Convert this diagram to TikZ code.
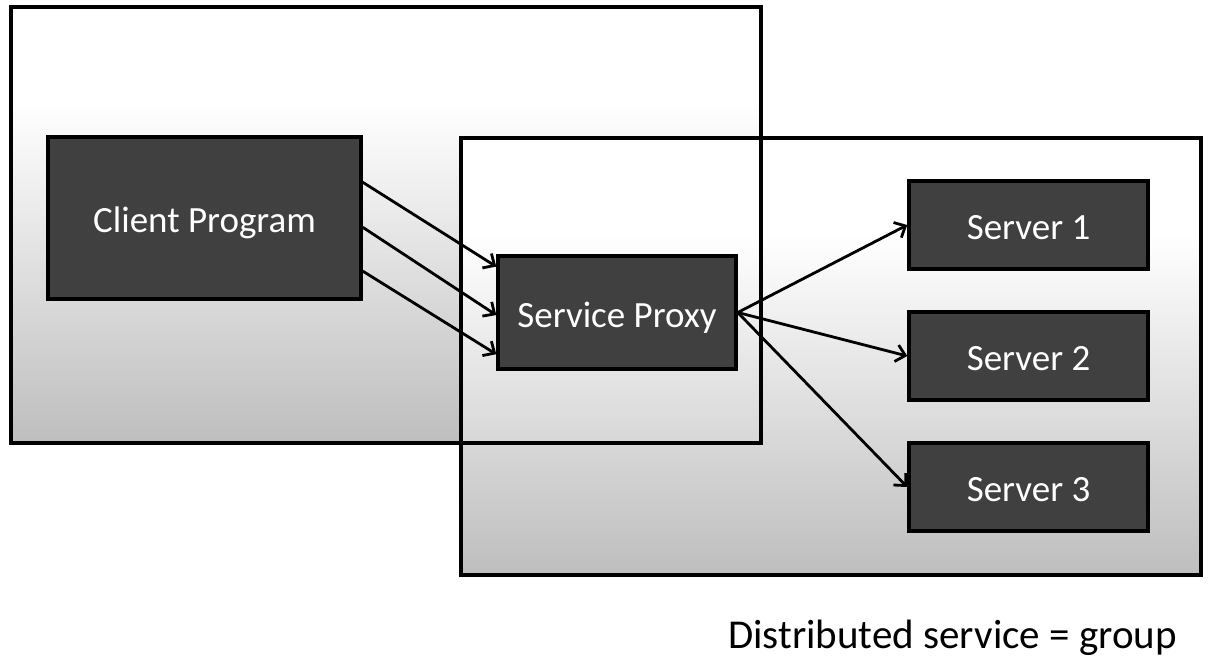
\documentclass[tikz,border=0pt]{standalone}
\usepackage{fontspec}
\setmainfont{Carlito}
\usetikzlibrary{arrows.meta,calc}
\definecolor{boxdark}{RGB}{64,64,64}
\definecolor{shadelow}{RGB}{190,190,190}
\pgfdeclareverticalshading{groupshade}{100bp}{%
  color(0bp)=(shadelow); color(25bp)=(shadelow);
  color(64bp)=(white); color(100bp)=(white)}
\tikzset{
  groupbox/.style={draw=black, line width=4pt, shading=groupshade, inner sep=0pt},
  groupedge/.style={draw=black, line width=4pt, inner sep=0pt},
  procbox/.style={draw=black, line width=3.5pt, fill=boxdark, text=white,
    inner sep=0pt, text height=29pt, text depth=0pt,
    font=\fontsize{37}{44}\selectfont},
  flow/.style={line width=2.8pt, -{Straight Barb[length=9pt,width=17pt,line width=2.8pt]}},
}
\begin{document}
\begin{tikzpicture}[x=1pt,y=-1pt]
\useasboundingbox (0,0) rectangle (1211,657);
% the two groups: client side and distributed service
\node[groupbox, minimum width=750pt, minimum height=436pt] (clientgrp) at (385.5,225) {};
\node[groupbox, minimum width=740pt, minimum height=437pt] (servicegrp) at (830.5,356.5) {};
\node[groupedge, minimum width=750pt, minimum height=436pt] at (clientgrp.center) {};
% processes
\node[procbox, minimum width=313pt, minimum height=162pt] (client) at (204.5,218) {Client Program};
\node[procbox, minimum width=238pt, minimum height=113pt] (proxy) at (617,312.5) {Service Proxy};
\node[procbox, minimum width=239pt, minimum height=88pt] (s1) at (1028.5,225) {Server 1};
\node[procbox, minimum width=239pt, minimum height=88pt] (s2) at (1028.5,356) {Server 2};
\node[procbox, minimum width=239pt, minimum height=88pt] (s3) at (1028.5,487) {Server 3};
% requests from the client to the proxy
\draw[flow] ($(client.north east)!0.284!(client.south east)$) -- ($(proxy.north west)!0.106!(proxy.south west)$);
\draw[flow] ($(client.north east)!0.556!(client.south east)$) -- ($(proxy.north west)!0.522!(proxy.south west)$);
\draw[flow] ($(client.north east)!0.821!(client.south east)$) -- ($(proxy.north west)!0.858!(proxy.south west)$);
% proxy forwards to the group members
\draw[flow] (proxy.east) -- (s1.west);
\draw[flow] (proxy.east) -- (s2.west);
\draw[flow] (proxy.east) -- (s3.west);
\node[anchor=base west, inner sep=0pt, font=\fontsize{41}{49}\selectfont] (caption) at (728,648) {Distributed service = group};
\end{tikzpicture}
\end{document}
